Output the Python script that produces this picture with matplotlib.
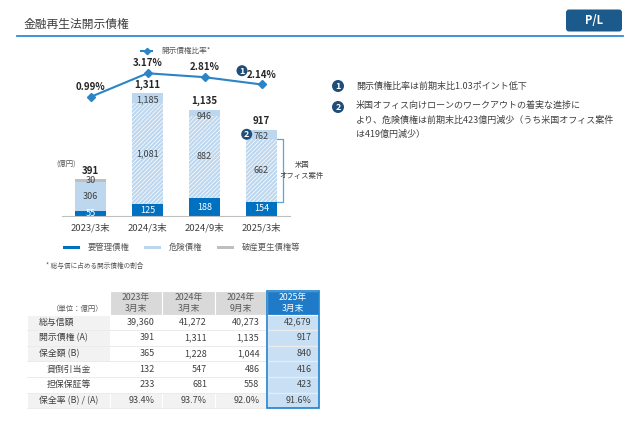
import matplotlib

matplotlib.use("Agg")

import matplotlib.pyplot as plt
import numpy as np
from matplotlib.patches import Circle, FancyBboxPatch, Rectangle

plt.rcParams["font.family"] = ["Noto Sans CJK JP", "DejaVu Sans"]
plt.rcParams["hatch.linewidth"] = 0.5

# ---- data -------------------------------------------------------------
periods = ["2023/3末", "2024/3末", "2024/9末", "2025/3末"]
youkanri = [55, 125, 188, 154]          # 要管理債権
kiken = [306, 1185, 946, 762]           # 危険債権
kiken_us_office = [0, 1081, 882, 662]   # うち米国オフィス案件 (hatched)
hasan = [30, 1, 1, 1]                   # 破産更生債権等
totals = [391, 1311, 1135, 917]
ratio = [0.99, 3.17, 2.81, 2.14]        # 開示債権比率 (%)

series_names = ["要管理債権", "危険債権", "破産更生債権等"]

table_cols = ["2023年\n3月末", "2024年\n3月末", "2024年\n9月末", "2025年\n3月末"]
row_labels = ["総与信額", "開示債権 (A)", "保全額 (B)", "貸倒引当金", "担保保証等", "保全率 (B) / (A)"]
row_sub = [False, False, False, True, True, False]
total_credit = [39360, 41272, 40273, 42679]
disclosed = [391, 1311, 1135, 917]
secured = [365, 1228, 1044, 840]
allowance = [132, 547, 486, 416]
collateral = [233, 681, 558, 423]
coverage = [93.4, 93.7, 92.0, 91.6]

notes = [
    "開示債権比率は前期末比1.03ポイント低下",
    "米国オフィス向けローンのワークアウトの着実な進捗に\nより、危険債権は前期末比423億円減少（うち米国オフィス案件\nは419億円減少）",
]

# ---- colours ----------------------------------------------------------
C_DARK = "#0070c0"
C_LIGHT = "#bdd7ee"
C_GREY = "#bfbfbf"
C_LINE = "#2a84c6"
C_NAVY = "#1f4e79"
C_TEXT = "#404040"

W, H = 640, 443
fig = plt.figure(figsize=(W / 100, H / 100), dpi=100)

# ---- bar chart --------------------------------------------------------
ax = fig.add_axes([62 / W, (H - 216) / H, 228 / W, 176 / H])
ax.set_facecolor("none")
x = np.arange(len(periods))
bw = 0.56
you = np.array(youkanri)
kik = np.array(kiken)
ax.bar(x, you, bw, color=C_DARK, label=series_names[0])
ax.bar(x, kik, bw, bottom=you, color=C_LIGHT, label=series_names[1])
ax.bar(x, hasan, bw, bottom=you + kik, color=C_GREY, label=series_names[2])
ax.bar(x, kiken_us_office, bw, bottom=you, facecolor="none", edgecolor="white",
       hatch="////////", linewidth=0)
ax.set_xlim(-0.5, 3.5)
ax.set_ylim(0, 1876)
for s in ["top", "left", "right"]:
    ax.spines[s].set_visible(False)
ax.spines["bottom"].set_color("#bfbfbf")
ax.set_yticks([])
ax.set_xticks(x, periods, fontsize=6.8, color=C_TEXT)
ax.tick_params(axis="x", length=0, pad=5)

for i in range(len(periods)):
    ax.text(x[i], youkanri[i] / 2, f"{youkanri[i]:,}", color="white", fontsize=6.5,
            ha="center", va="center")
    if kiken_us_office[i] > 0:
        ax.text(x[i], totals[i] - 70, f"{kiken[i]:,}", color=C_TEXT, fontsize=6.5,
                ha="center", va="center")
        ax.text(x[i], youkanri[i] + kiken_us_office[i] / 2, f"{kiken_us_office[i]:,}",
                color=C_TEXT, fontsize=6.5, ha="center", va="center")
    else:
        ax.text(x[i], youkanri[i] + kiken[i] / 2, f"{kiken[i]:,}", color=C_TEXT,
                fontsize=6.5, ha="center", va="center")
    if hasan[i] >= 10:
        ax.text(x[i], youkanri[i] + kiken[i] + hasan[i] / 2, f"{hasan[i]:,}",
                color=C_TEXT, fontsize=6.5, ha="center", va="center")
    ax.annotate(f"{totals[i]:,}", (x[i], totals[i]), xytext=(0, 2.5),
                textcoords="offset points", ha="center", va="bottom",
                fontsize=7, fontweight="bold", color="#262626")

# bracket for US office loans
b0 = youkanri[3]
b1 = youkanri[3] + kiken_us_office[3]
bx0, bx1 = x[3] + bw / 2, x[3] + 0.37
ax.plot([bx0, bx1, bx1, bx0], [b1, b1, b0, b0], color="#5ba3dc", lw=0.9, clip_on=False)
ax.text(bx1 + 0.34, (b0 + b1) / 2, "米国\nオフィス案件", fontsize=5.3, color=C_TEXT,
        ha="center", va="center", linespacing=1.5)
ax.text(-0.43, 560, "(億円)", fontsize=5.3, color="#595959", ha="center", va="center")

# ratio line
ax2 = ax.twinx()
ax2.set_ylim(-9.96, 6.23)
ax2.axis("off")
ax2.plot(x, ratio, color=C_LINE, lw=1.5, marker="D", ms=3.8, clip_on=False)
for i, v in enumerate(ratio):
    ax2.annotate(f"{v:.2f}%", (x[i], v), xytext=(0, 3.5), textcoords="offset points",
                 ha="center", va="bottom", fontsize=7, fontweight="bold", color="#262626")

# canvas axes in pixel coordinates for the slide decorations (drawn on top)
cv = fig.add_axes([0, 0, 1, 1])
cv.set_xlim(0, W)
cv.set_ylim(H, 0)
cv.axis("off")
cv.set_zorder(5)

# header
cv.text(24, 24, "金融再生法開示債権", fontsize=8.5, color=C_TEXT, va="center")
cv.plot([17, 623], [35.5, 35.5], color="#2e8bd6", lw=1.3)
cv.add_patch(FancyBboxPatch((566, 9.5), 56, 22, boxstyle="round,pad=0,rounding_size=3",
                            fc="#1d5a8c", ec="none"))
cv.text(594, 20.5, "P/L", color="white", fontsize=8, fontweight="bold",
        ha="center", va="center")


def badge(bx, by, s, r=5.5):
    cv.add_patch(Circle((bx, by), r, fc=C_NAVY, ec="none", zorder=6))
    cv.text(bx, by + 0.3, s, color="white", fontsize=6.5, fontweight="bold",
            ha="center", va="center", zorder=7)


# top legend
cv.plot([140, 153], [50.7, 50.7], color=C_LINE, lw=1.5, solid_capstyle="butt")
cv.plot([146.5], [50.7], color=C_LINE, marker="D", ms=3.2)
cv.text(161, 50.7, "開示債権比率*", fontsize=5.5, color="#595959", va="center")

# bottom legend
leg_x = [63, 144, 217]
leg_c = [C_DARK, C_LIGHT, C_GREY]
for lx, name, col in zip(leg_x, series_names, leg_c):
    cv.add_patch(Rectangle((lx, 245.5), 17, 3.5, fc=col, ec="none"))
    cv.text(lx + 25, 247.5, name, fontsize=6, color="#595959", va="center")
cv.text(46, 265.5, "* 総与信に占める開示債権の割合", fontsize=4.8, color="#595959", va="center")

badge(242, 70.7, "1")
badge(246.7, 134.3, "2")

# ---- notes on the right ----------------------------------------------
badge(338, 86, "1", r=6)
badge(338, 107, "2", r=6)
cv.text(356, 86, notes[0], fontsize=6.5, color=C_TEXT, va="center")
cv.text(356, 101, notes[1], fontsize=6.5, color=C_TEXT, va="top", linespacing=1.75)

# ---- table -------------------------------------------------------------
rows = [
    [f"{v:,}" for v in total_credit],
    [f"{v:,}" for v in disclosed],
    [f"{v:,}" for v in secured],
    [f"{v:,}" for v in allowance],
    [f"{v:,}" for v in collateral],
    [f"{v:.1f}%" for v in coverage],
]
t_left, lab_w, col_w = 27, 83, 52.3
t_top, head_h, row_h = 291, 23.5, 15.6
col_edges = t_left + lab_w + col_w * np.arange(len(table_cols) + 1)
n_rows = len(rows)
t_bottom = t_top + head_h + row_h * n_rows
hi = len(table_cols) - 1

cv.text(col_edges[0] - 6, t_top + head_h - 6, "（単位：億円）", fontsize=5.3,
        color="#595959", ha="right", va="center")
for j, name in enumerate(table_cols):
    fc = "#1f7bc7" if j == hi else "#d9d9d9"
    tc = "white" if j == hi else "#595959"
    cv.add_patch(Rectangle((col_edges[j], t_top), col_w, head_h, fc=fc, ec="white", lw=0.8))
    cv.text(col_edges[j] + col_w / 2, t_top + head_h / 2, name, fontsize=6.3, color=tc,
            ha="center", va="center", linespacing=1.25)

for r, (lab, vals) in enumerate(zip(row_labels, rows)):
    y0 = t_top + head_h + r * row_h
    last = r == n_rows - 1
    lab_fc = "white" if row_sub[r] else "#f2f2f2"
    cv.add_patch(Rectangle((t_left, y0), lab_w, row_h, fc=lab_fc, ec="white", lw=0.8))
    cv.text(t_left + (20 if row_sub[r] else 12), y0 + row_h / 2, lab, fontsize=6.4,
            color=C_TEXT, va="center")
    for j, v in enumerate(vals):
        if j == hi:
            fc = "#c9e0f4"
        else:
            fc = "#f2f2f2" if last else "white"
        cv.add_patch(Rectangle((col_edges[j], y0), col_w, row_h, fc=fc, ec="white", lw=0.8))
        cv.text(col_edges[j + 1] - 7.5, y0 + row_h / 2, v, fontsize=6.5, color=C_TEXT,
                ha="right", va="center")
    cv.plot([t_left, col_edges[-1]], [y0 + row_h, y0 + row_h], color="#e3e3e3", lw=0.5)

cv.add_patch(Rectangle((col_edges[hi], t_top), col_w, t_bottom - t_top, fc="none",
                       ec="#1f82cf", lw=1.2, zorder=5))

fig.savefig("out.png", dpi=100)
